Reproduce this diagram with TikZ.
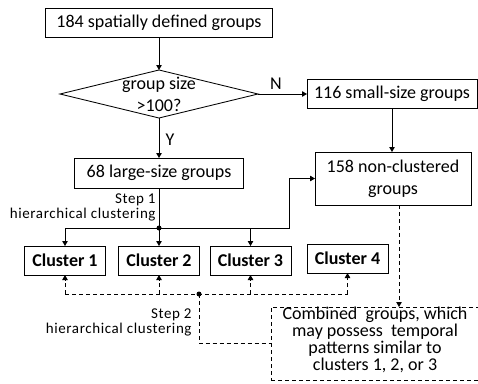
\documentclass[tikz,border=0pt]{standalone}
\usepackage{fontspec}
\setmainfont{Carlito}
\usetikzlibrary{arrows.meta,shapes.geometric}
\begin{document}
\begin{tikzpicture}[x=1pt,y=-1pt,
  line width=0.85pt,
  >={Triangle[length=5pt,width=5.5pt]},
  box/.style={draw, rectangle, inner sep=0pt, outer sep=0pt, align=center,
    font=\fontsize{18}{22}\selectfont},
  clus/.style={box, minimum width=81pt, minimum height=29pt,
    font=\fontsize{18}{22}\selectfont\bfseries},
  txt/.style={inner sep=0pt, align=center, font=\fontsize{18}{22}\selectfont},
  lbl/.style={inner sep=0pt, align=right, anchor=east,
    font=\fontsize{15}{15}\selectfont\addfontfeatures{LetterSpace=4}},
  dsh/.style={dash pattern=on 4pt off 3pt},
  dot/.style={circle, fill, inner sep=0pt, minimum size=5pt}
]
\useasboundingbox (0,0) rectangle (478,383);
\fill[white] (0,0) rectangle (478,383);

% main boxes
\node[box, minimum width=227pt, minimum height=29pt] (src) at (159,22.5) {184 spatially defined groups};
\node[draw, diamond, inner sep=0pt, outer sep=0pt, minimum width=198pt, minimum height=48pt] (dec) at (159,94) {};
\node[txt] (dectxt) at (159,94) {group size\\>100?};
\node[box, minimum width=170pt, minimum height=29pt] (small) at (392,93.5) {116 small-size groups};
\node[box, minimum width=169pt, minimum height=30pt] (large) at (159,173) {68 large-size groups};
\node[box, minimum width=156pt, minimum height=53pt] (nonc) at (393,178.5) {158 non-clustered\\groups};

% clusters
\node[clus] (c1) at (65,260.5) {Cluster 1};
\node[clus] (c2) at (159,260.5) {Cluster 2};
\node[clus] (c3) at (250.5,260.5) {Cluster 3};
\node[clus] (c4) at (347.5,258.5) {Cluster 4};

% combined groups
\node[box, dsh, minimum width=208pt, minimum height=73pt] (comb) at (375,343.5) {};
\node[txt, font=\fontsize{18}{17}\selectfont] (combtxt) at (375,340) {Combined\ \ groups, which\\may possess\ \ temporal\\patterns similar to\\clusters 1, 2, or 3};

% labels
\node[txt] (nlab) at (276,84) {N};
\node[txt] (ylab) at (170,140) {Y};
\node[lbl] (step1) at (156,207) {Step 1\\hierarchical clustering};
\node[lbl] (step2) at (192,322) {Step 2\\hierarchical clustering};

% solid connectors
\draw[->] (src.south) -- (dec.north);
\draw[->] (dec.east) -- (dec.east -| small.west);
\draw[->] (dec.south) -- (large.north);
\draw[->] (small.south) -- (small.south |- nonc.north);

\node[dot] (j) at (159,228) {};
\coordinate (bend) at (289,228);
\draw (large.south) -- (j.center);
\draw[->] (j.center) -| (c1.north);
\draw[->] (j.center) -- (c2.north);
\draw[->] (j.center) -- (bend) |- (nonc.west);
\draw[->] (c3.north |- j.center) -- (c3.north);

% dashed connectors
\node[dot] (d) at (199,294) {};
\draw[dsh] (c1.south |- d.center) -- (c4.south |- d.center);
\draw[dsh,->] (c1.south |- d.center) -- (c1.south);
\draw[dsh,->] (c2.south |- d.center) -- (c2.south);
\draw[dsh,->] (c3.south |- d.center) -- (c3.south);
\draw[dsh,->] (c4.south |- d.center) -- (c4.south);
\draw[dsh] (d.center) |- (comb.west);
\draw[dsh,->] ([xshift=6pt]nonc.south) -- ([xshift=6pt]nonc.south |- comb.north);
\end{tikzpicture}
\end{document}
